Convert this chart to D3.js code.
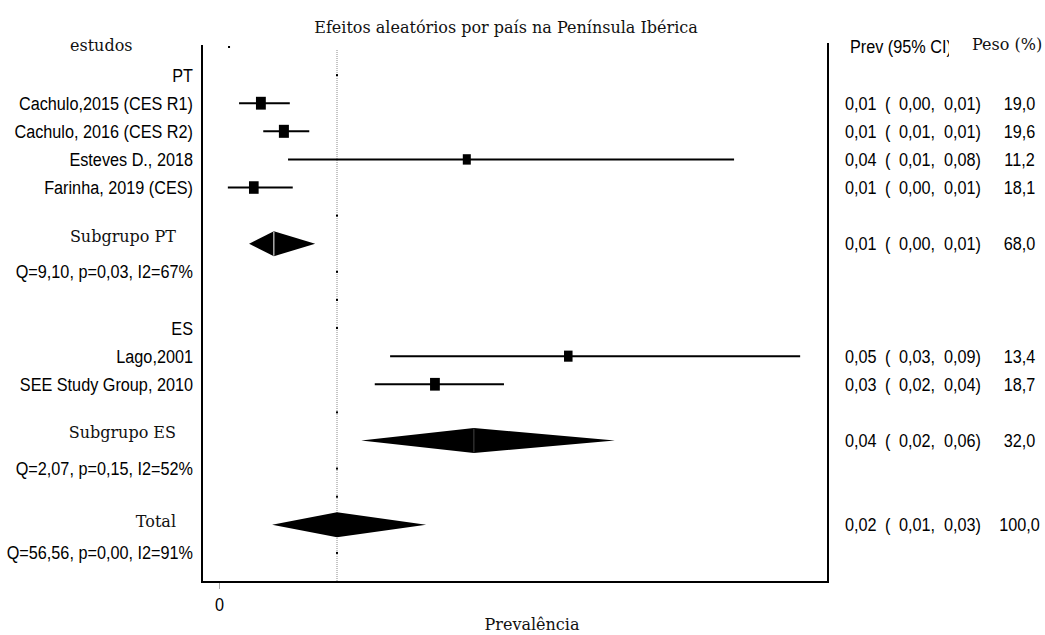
<!DOCTYPE html>
<html><head><meta charset="utf-8">
<script src="https://cdn.jsdelivr.net/npm/d3@7"></script>
<style>
body{margin:0;background:#fff}
.sans{font-family:"Liberation Sans",Arial,sans-serif;font-size:19px;fill:#000}
.serif{font-family:"DejaVu Serif",Georgia,serif;font-size:16px;fill:#111}
</style></head>
<body>
<svg id="c" width="1045" height="635"></svg>
<script>
const title = "Efeitos aleatórios por país na Península Ibérica";
const rowLabels = ["estudos","PT","Cachulo,2015 (CES R1)","Cachulo, 2016 (CES R2)","Esteves D., 2018","Farinha, 2019 (CES)","","Subgrupo PT","Q=9,10, p=0,03, I2=67%","","ES","Lago,2001","SEE Study Group, 2010","","Subgrupo ES","Q=2,07, p=0,15, I2=52%","","Total","Q=56,56, p=0,00, I2=91%"];
const rowKind = ["header","group","study","study","study","study","blank","subtotal","het","blank","group","study","study","blank","subtotal","het","blank","total","het"];
const estimate = [0.0017,0.02,0.0071,0.0110,0.0420,0.0059,0.02,0.0093,0.02,0.02,0.02,0.0592,0.0366,0.02,0.0432,0.02,0.02,0.02,0.02];
const lower    = [null,null,0.0034,0.0075,0.0117,0.0015,null,0.0051,null,null,null,0.0290,0.0264,null,0.0241,null,null,0.0090,null];
const upper    = [null,null,0.0120,0.0153,0.0873,0.0125,null,0.0163,null,null,null,0.0985,0.0483,null,0.0671,null,null,0.0351,null];
const weight   = [null,null,19.0,19.6,11.2,18.1,null,68.0,null,null,null,13.4,18.7,null,32.0,null,null,100.0,null];
const prevText = ["","","0,01","0,01","0,04","0,01","","0,01","","","","0,05","0,03","","0,04","","","0,02",""];
const loText   = ["","","0,00,","0,01,","0,01,","0,00,","","0,00,","","","","0,03,","0,02,","","0,02,","","","0,01,",""];
const hiText   = ["","","0,01)","0,01)","0,08)","0,01)","","0,01)","","","","0,09)","0,04)","","0,06)","","","0,03)",""];
const weightText = ["","","19,0","19,6","11,2","18,1","","68,0","","","","13,4","18,7","","32,0","","","100,0",""];
const refValue = 0.02;
const xTicks = [0];
const xTickLabels = ["0"];

const svg = d3.select("#c");
const x = d3.scaleLinear().domain([0,0.1]).range([219,809]);
const y = d3.scaleLinear().domain([0,19]).range([47,581]);
const sz = d3.scaleLinear().domain([11.2,19.6]).range([8,10]);
const SX = 0.855;

function sansText(g, tx, ty, str, anchor){
  return g.append("text").attr("class","sans")
    .attr("transform",`translate(${tx},${ty}) scale(${SX},1)`)
    .attr("text-anchor",anchor||"start").text(str);
}

// title
svg.append("text").attr("class","serif").attr("x",506).attr("y",33)
  .attr("text-anchor","middle").text(title);

// reference dotted line
svg.append("line").attr("x1",x(refValue)).attr("x2",x(refValue))
  .attr("y1",50).attr("y2",582).attr("stroke","#8a8a8a").attr("stroke-width",1)
  .attr("stroke-dasharray","1,1");

// frame
svg.append("line").attr("x1",202).attr("x2",202).attr("y1",45).attr("y2",583).attr("stroke","#000").attr("stroke-width",2);
svg.append("line").attr("x1",828).attr("x2",828).attr("y1",43).attr("y2",583).attr("stroke","#000").attr("stroke-width",2);
svg.append("line").attr("x1",201).attr("x2",829).attr("y1",582).attr("y2",582).attr("stroke","#000").attr("stroke-width",2);

// x axis
const ax = svg.append("g").attr("transform","translate(0,583)")
  .call(d3.axisBottom(x).tickValues(xTicks).tickFormat((d,i)=>xTickLabels[i]).tickSize(6).tickPadding(9));
ax.select(".domain").remove();
ax.selectAll(".tick line").attr("stroke","#aaa");
ax.selectAll(".tick text").attr("class","sans").attr("font-size",null).attr("font-family",null)
  .attr("fill","#000").attr("transform",`scale(${SX},1)`);
svg.append("text").attr("class","serif").attr("x",532).attr("y",630).attr("text-anchor","middle").text("Prevalência");

// left labels
const lab = svg.append("g");
rowLabels.forEach((t,i)=>{
  if(!t) return;
  const k=rowKind[i];
  if(k==="header"){
    lab.append("text").attr("class","serif").attr("x",70).attr("y",y(i)+4).text(t);
  } else if(k==="subtotal"){
    lab.append("text").attr("class","serif").attr("x",176).attr("y",y(i)-2).attr("text-anchor","end").text(t);
  } else if(k==="total"){
    lab.append("text").attr("class","serif").attr("x",176).attr("y",y(i)+2).attr("text-anchor","end").text(t);
  } else {
    sansText(lab,193,y(i)+6.5,t,"end");
  }
});

// column headers
svg.append("clipPath").attr("id","hc").append("rect").attr("x",840).attr("y",30).attr("width",109).attr("height",30);
sansText(svg.append("g").attr("clip-path","url(#hc)"),850,53,"Prev (95% CI)","start");
svg.append("text").attr("class","serif").attr("x",972).attr("y",50).text("Peso (%)");

// right columns
const rc = svg.append("g");
prevText.forEach((t,i)=>{
  if(!t) return;
  const yy=y(i)+6.5;
  sansText(rc,845,yy,t);
  sansText(rc,885,yy,"(");
  sansText(rc,899,yy,loText[i]);
  sansText(rc,944,yy,hiText[i]);
  sansText(rc,1019.5,yy,weightText[i],"middle");
});

// marks
const idx = d3.range(rowLabels.length);
const studiesIdx = idx.filter(i=>rowKind[i]==="study");
const diamIdx = idx.filter(i=>rowKind[i]==="subtotal"||rowKind[i]==="total");
const dotIdx = idx.filter(i=>rowKind[i]!=="study"&&rowKind[i]!=="subtotal"&&rowKind[i]!=="total");

svg.append("g").selectAll("line").data(studiesIdx).join("line")
  .attr("x1",i=>x(lower[i])).attr("x2",i=>x(upper[i]))
  .attr("y1",i=>y(i)).attr("y2",i=>y(i)).attr("stroke","#000").attr("stroke-width",2);
svg.append("g").selectAll("rect").data(studiesIdx).join("rect")
  .attr("x",i=>x(estimate[i])-sz(weight[i])/2).attr("width",i=>sz(weight[i]))
  .attr("y",i=>y(i)-sz(weight[i])*0.65).attr("height",i=>sz(weight[i])*1.3).attr("fill","#000");

svg.append("g").selectAll("path").data(diamIdx).join("path")
  .attr("d",i=>{const c=y(i),h=12.5;return `M${x(lower[i])},${c}L${x(estimate[i])},${c-h}L${x(upper[i])},${c}L${x(estimate[i])},${c+h}Z`;})
  .attr("fill","#000");
svg.append("g").selectAll("line").data(diamIdx.filter(i=>rowKind[i]==="subtotal")).join("line")
  .attr("x1",i=>x(estimate[i])).attr("x2",i=>x(estimate[i]))
  .attr("y1",i=>y(i)-12).attr("y2",i=>y(i)+12)
  .attr("stroke",(i,j)=>j===0?"#fff":"#444").attr("stroke-width",1);

svg.append("g").selectAll("rect").data(dotIdx).join("rect")
  .attr("x",i=>x(estimate[i])-1).attr("y",i=>y(i)-1).attr("width",2).attr("height",2).attr("fill","#000");
</script>
</body></html>
